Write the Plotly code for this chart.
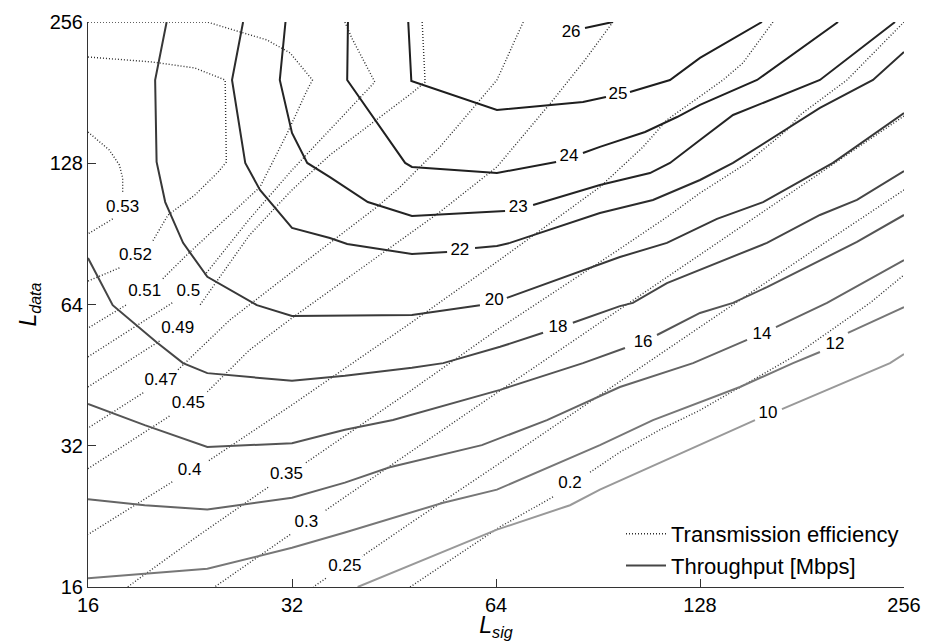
import math
import plotly.graph_objects as go

# ---------------- data (L_sig, L_data); None = gap under a contour label
tick_vals = [16, 32, 64, 128, 256]
tick_text = ["16", "32", "64", "128", "256"]

# Throughput contours [Mbps]
tp26_sig  = [86.6, 95.2]
tp26_data = [248.7, 256]
tp25_sig  = [47.5, 48.0, 64.2, 86.0, 93.0, None, 100.9, 115.6, 128, 158.0]
tp25_data = [256, 191.6, 166.2, 172.9, 177.2, None, 181.6, 192.6, 214.6, 256]
tp24_sig  = [38.7, 38.6, 47.0, 48.1, 64.2, 78.5, None, 86.0, 91.1, 106.2, 118.4, 128, 155.4, 204.6]
tp24_data = [256, 192.6, 128.2, 125.7, 122.0, 128.8, None, 134.6, 138.7, 149.2, 160.6, 170.4, 192.6, 256]
tp23_sig  = [31.3, 30.7, 32, 33.7, 36.4, 41.4, 48.1, 64.2, 66.0, None, 72.6, 91.1, 108.0, 115.6, 128, 143.2, 192.4, 248.3]
tp23_data = [256, 192.6, 148.5, 128.2, 119.6, 105.8, 98.8, 100.8, 101.3, None, 104.3, 115.0, 122.0, 128.2, 143.5, 162.2, 192.6, 256]
tp22_sig  = [27.1, 26.1, 27.3, 28.7, 32, 36.4, 38.6, 48.1, 54.2, None, 59.6, 64.2, 67.1, 91.1, 109.1, 128, 143.2, 192.4, 230.4, 256]
tp22_data = [256, 192.6, 128.2, 112.3, 93.2, 88.7, 86.1, 82.0, 82.8, None, 84.5, 85.3, 86.6, 100.3, 106.9, 117.9, 128.2, 167.9, 192.6, 221.0]
tp20_sig  = [20.9, 20.1, 20.2, 20.8, 22.1, 24.0, 28.4, 32, 48.1, 60.6, None, 66.4, 97.5, 114.4, 128, 135.6, 158.6, 201.1, 256]
tp20_data = [256, 192.6, 128.8, 105.8, 86.6, 73.3, 63.8, 60.5, 60.8, 63.8, None, 66.1, 80.8, 86.6, 93.6, 97.4, 105.8, 128.2, 163.8]
tp18_sig  = [16, 17.4, 20.2, 22.1, 24.0, 32, 38.3, 48.1, 53.5, 64.9, 75.1, None, 83.1, 97.5, 101.9, 114.4, 160.7, 192.4, 218.2, 256]
tp18_data = [80.4, 63.8, 53.2, 48.0, 45.7, 44.0, 45.1, 46.9, 48.0, 52.0, 55.7, None, 58.5, 63.5, 64.5, 71.1, 86.6, 99.3, 106.9, 123.2]
tp16_sig  = [16, 19.4, 24.0, 32, 38.3, 45.1, 64.9, 86.0, 99.2, None, 110.6, 128, 143.2, 160.7, 218.2, 256]
tp16_data = [39.3, 35.4, 31.8, 32.4, 34.6, 36.3, 42.1, 48.0, 51.7, None, 55.1, 61.4, 64.5, 69.7, 87.0, 99.3]
tp14_sig  = [16, 19.4, 24.0, 32, 38.3, 44.6, 61.0, 76.1, 97.5, 125.0, 150.2, None, 165.7, 197.1, 256]
tp14_data = [24.6, 23.9, 23.4, 24.8, 26.7, 28.8, 32.1, 36.3, 42.7, 48.0, 53.8, None, 57.3, 64.5, 79.6]
tp12_sig  = [16, 24.0, 32, 38.3, 53.5, 64.2, 91.1, 109.1, 146.6, 175.6, 192.4, None, 211.6, 256]
tp12_data = [16.7, 17.5, 19.4, 20.9, 24.2, 25.8, 32.1, 36.3, 42.7, 48.0, 50.7, None, 55.7, 63.2]
tp10_sig  = [40.0, 64.2, 82.3, 91.1, 154.3, None, 169.1, 244.1, 256]
tp10_data = [16, 21.2, 23.9, 25.8, 36.3, None, 38.3, 48.0, 50.2]

tp_levels     = ["26", "25", "24", "23", "22", "20", "18", "16", "14", "12", "10"]
tp_label_sig  = [82.6, 96.9, 82.0, 69.0, 56.6, 63.6, 79.0, 105.5, 158.0, 202.5, 161.3]
tp_label_data = [242.7, 178.9, 132.0, 102.8, 83.2, 65.1, 57.0, 53.0, 55.1, 52.5, 37.4]

# Transmission-efficiency contours
ef53_sig  = [16, 17.2, 17.8, 18.0, 18.0, None, 17.4, 16]
ef53_data = [149.2, 136.6, 126.9, 119.1, 111.2, None, 97.4, 90.5]
ef52_sig  = [16, 19.9, 23.0, 25.5, 25.6, 24.9, 23.0, 21.0, 19.9, None, 17.8, 16]
ef52_data = [215.6, 210.4, 204.3, 192.6, 128.8, 122.6, 109.5, 99.3, 87.0, None, 76.6, 71.8]
ef51_sig  = [16, 24.0, 26.2, 29.4, 31.8, 34.3, 33.7, 31.5, 28.7, 25.7, 22.3, 20.6, None, 18.2, 16]
ef51_data = [256, 256, 246.3, 234.4, 219.9, 192.6, 183.4, 148.5, 113.9, 98.3, 81.2, 72.5, None, 63.8, 57.0]
ef50_sig  = [38.3, 39.2, 42.4, 36.4, 32, 27.7, 23.8, None, 21.3, 16]
ef50_data = [256, 236.8, 190.7, 150.7, 123.8, 97.4, 74.0, None, 64.5, 49.5]
ef49_sig  = [49.8, 50.3, 48.1, 41.7, 36.4, 32, 27.7, 23.4, None, 20.4, 16]
ef49_data = [256, 190.7, 180.7, 154.4, 133.3, 112.3, 90.0, 63.8, None, 53.5, 42.7]
ef47_sig  = [70.2, 67.1, 64.2, 60.6, 52.9, 46.2, 42.7, 32, 25.9, 21.7, None, 19.3, 16]
ef47_data = [256, 221.0, 192.6, 174.6, 138.7, 113.9, 103.3, 75.1, 59.3, 46.4, None, 41.5, 34.9]
ef45_sig  = [95.2, 86.6, 77.7, 64.2, 52.9, 48.1, 36.4, 32, 27.7, 24.0, None, 21.1, 16]
ef45_data = [256, 212.5, 174.6, 125.7, 100.8, 91.4, 68.7, 59.9, 51.2, 41.7, None, 37.0, 28.6]
ef40_sig  = [164.0, 148.1, 138.4, 123.7, 114.4, 105.5, 91.1, 64.2, 48.1, 32, 24.0, None, 21.3, 16]
ef40_data = [256, 209.4, 192.6, 172.0, 158.3, 138.7, 113.9, 78.9, 58.7, 39.1, 29.6, None, 26.8, 20.7]
ef35_sig  = [256, 210.9, 179.8, 172.0, 150.2, 128, 114.4, 95.9, 64.2, 48.1, 33.5, None, 29.5, 23.4, 18.3]
ef35_data = [256, 192.6, 162.2, 150.7, 128.2, 110.6, 98.3, 82.8, 56.5, 42.1, 29.4, None, 26.1, 20.7, 16]
ef30_sig  = [256, 192.4, 128, 95.9, 64.2, 48.1, 35.7, None, 31.8, 24.6]
ef30_data = [161.4, 122.0, 81.6, 61.4, 41.5, 31.2, 23.2, None, 20.7, 16]
ef25_sig  = [256, 192.4, 128, 95.9, 64.2, 48.1, 40.6, None, 35.9, 34.4]
ef25_data = [112.3, 85.3, 57.3, 43.1, 29.1, 22.0, 18.6, None, 16.7, 16]
ef20_sig  = [47.8, 64.9, 77.7, None, 88.1, 97.5, 111.7, 128, 175.6, 228.1, 256]
ef20_data = [16, 21.5, 24.9, None, 28.1, 31.0, 34.6, 38.1, 49.5, 64.5, 74.0]

ef_levels     = ["0.53", "0.52", "0.51", "0.5", "0.49", "0.47", "0.45", "0.4", "0.35", "0.3", "0.25", "0.2"]
ef_label_sig  = [18.0, 18.8, 19.4, 22.5, 21.7, 20.5, 22.5, 22.6, 31.4, 33.6, 38.3, 82.3]
ef_label_data = [102.8, 81.2, 68.1, 68.1, 56.8, 44.0, 39.3, 28.3, 27.7, 21.9, 17.65, 26.5]

# ---------------- styles
FONT = "Liberation Sans, Arial, Helvetica, sans-serif"
AX = "#333333"

eff_lines = [(ef53_sig, ef53_data), (ef52_sig, ef52_data), (ef51_sig, ef51_data),
             (ef50_sig, ef50_data), (ef49_sig, ef49_data), (ef47_sig, ef47_data),
             (ef45_sig, ef45_data), (ef40_sig, ef40_data), (ef35_sig, ef35_data),
             (ef30_sig, ef30_data), (ef25_sig, ef25_data), (ef20_sig, ef20_data)]

tp_lines = [(tp26_sig, tp26_data, "#1c1c1c"), (tp25_sig, tp25_data, "#1e1e1e"),
            (tp24_sig, tp24_data, "#202020"), (tp23_sig, tp23_data, "#242424"),
            (tp22_sig, tp22_data, "#2c2c2c"), (tp20_sig, tp20_data, "#383838"),
            (tp18_sig, tp18_data, "#464646"), (tp16_sig, tp16_data, "#555555"),
            (tp14_sig, tp14_data, "#656565"), (tp12_sig, tp12_data, "#777777"),
            (tp10_sig, tp10_data, "#999999")]

fig = go.Figure()

for i, (xs, ys) in enumerate(eff_lines):
    fig.add_trace(go.Scatter(
        x=xs, y=ys, mode="lines", connectgaps=False,
        line=dict(color="#2e2e2e", width=1.4, dash="1px,2px"),
        name="Transmission efficiency", legendgroup="eff", legendrank=1,
        showlegend=(i == 0), hoverinfo="skip"))

for i, (xs, ys, col) in enumerate(tp_lines):
    fig.add_trace(go.Scatter(
        x=xs, y=ys, mode="lines", connectgaps=False,
        line=dict(color=col, width=2),
        name="Throughput [Mbps]", legendgroup="tp", legendrank=2,
        showlegend=(col == "#464646"), hoverinfo="skip"))

fig.add_trace(go.Scatter(
    x=ef_label_sig, y=ef_label_data, text=ef_levels, mode="text",
    textposition="middle center", textfont=dict(size=17, family=FONT, color="black"),
    showlegend=False, hoverinfo="skip"))
fig.add_trace(go.Scatter(
    x=tp_label_sig, y=tp_label_data, text=tp_levels, mode="text",
    textposition="middle center", textfont=dict(size=17, family=FONT, color="black"),
    showlegend=False, hoverinfo="skip"))

axis_common = dict(
    type="log", range=[math.log10(16), math.log10(256)],
    tickmode="array", tickvals=tick_vals, ticktext=tick_text,
    ticks="inside", ticklen=8, tickwidth=1, tickcolor=AX,
    showline=True, linecolor=AX, linewidth=1, mirror=False,
    showgrid=False, zeroline=False, automargin=False,
    tickfont=dict(size=20, family=FONT, color="black"),
)

fig.update_layout(
    template="none",
    width=925, height=641,
    margin=dict(l=88, r=21, t=22, b=54, pad=0),
    paper_bgcolor="white", plot_bgcolor="white",
    font=dict(family=FONT, color="black"),
    showlegend=True,
    legend=dict(x=1.0, xanchor="right", y=0.0, yanchor="bottom",
                bgcolor="rgba(0,0,0,0)", borderwidth=0,
                font=dict(size=22, family=FONT, color="black"),
                tracegroupgap=0, itemwidth=40),
    xaxis=dict(**axis_common,
               title=dict(text="<i>L</i><sub><i>sig</i></sub>",
                          font=dict(size=23, family=FONT), standoff=0)),
    yaxis=dict(**axis_common,
               title=dict(text="<i>L</i><sub><i>data</i></sub>",
                          font=dict(size=23, family=FONT), standoff=6)),
)

fig.write_html("out.html")
